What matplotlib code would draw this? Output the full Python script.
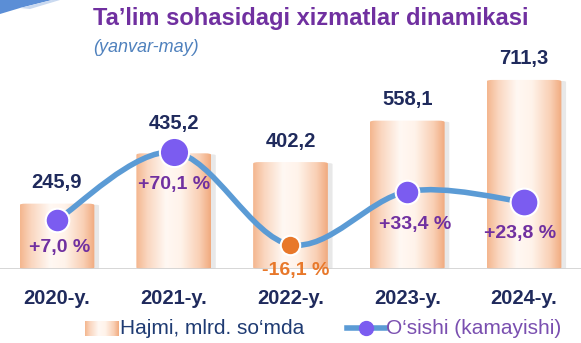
import numpy as np
import matplotlib
matplotlib.use("Agg")
import matplotlib.pyplot as plt
from matplotlib.patches import FancyBboxPatch, Polygon, PathPatch
from matplotlib.path import Path
from matplotlib.lines import Line2D
from matplotlib.colors import LinearSegmentedColormap

plt.rcParams['font.family'] = ['Liberation Sans', 'DejaVu Sans']

# ---- data ----
years = ["2020-y.", "2021-y.", "2022-y.", "2023-y.", "2024-y."]
volume = [245.9, 435.2, 402.2, 558.1, 711.3]          # mlrd. so'm
growth = [7.0, 70.1, -16.1, 33.4, 23.8]               # %
volume_labels = ["245,9", "435,2", "402,2", "558,1", "711,3"]
growth_labels = ["+7,0 %", "+70,1 %", "-16,1 %", "+33,4 %", "+23,8 %"]

NAVY = "#1F2A5C"
PURPLE = "#7030A0"
LINE_BLUE = "#5B9BD5"
DOT = "#7B5CF0"
ORANGE = "#E8782A"

W, H = 581, 343
fig = plt.figure(figsize=(W / 100, H / 100), dpi=100)
fig.patch.set_facecolor("white")


def fx(px):
    return px / W


def fy(py):
    return 1 - py / H


ax = fig.add_axes([0, 74 / H, 1, 269 / H])
ax.set_xlim(-0.488, 4.488)
ax.set_ylim(0, 1012)
ax.axis("off")

# cylinder-like gradient for the bars
cmap = LinearSegmentedColormap.from_list(
    "cyl", [(0, "#F4B68E"), (0.15, "#FAD6BF"), (0.4, "#FFF8F3"),
            (0.6, "#FFF3EA"), (0.85, "#F9CFB4"), (1, "#F1AA7E")])
grad = np.linspace(0, 1, 256).reshape(1, -1)
bw = 0.64
x = np.arange(len(years))
for xi, v in zip(x, volume):
    # soft shadow on the right
    sh = FancyBboxPatch((xi - bw / 2 + 0.04, 0), bw, v - 4,
                        boxstyle="round,pad=0,rounding_size=0.03",
                        mutation_aspect=120, fc="#D9D9D9", ec="none",
                        alpha=0.6, zorder=1)
    ax.add_patch(sh)
    box = FancyBboxPatch((xi - bw / 2, 0), bw, v,
                         boxstyle="round,pad=0,rounding_size=0.05",
                         mutation_aspect=120, fc="none", ec="none", zorder=2)
    ax.add_patch(box)
    im = ax.imshow(grad, cmap=cmap, aspect="auto", zorder=2,
                   extent=(xi - bw / 2, xi + bw / 2, 0, v))
    im.set_clip_path(box)

# baseline
ax.axhline(0, color="#D0D0D0", lw=1.2, zorder=3)

# value labels above the bars
for xi, v, lab in zip(x, volume, volume_labels):
    off = 30 if xi == 1 else 21
    ax.annotate(lab, (xi, v), xytext=(0, off), textcoords="offset pixels",
                ha="center", va="center", fontsize=14.5, fontweight="bold",
                color=NAVY, zorder=6)

# category labels
for xi, lab in zip(x, years):
    ax.annotate(lab, (xi, 0), xytext=(0, -29), textcoords="offset pixels",
                ha="center", va="center", fontsize=14.5, fontweight="bold",
                color=NAVY)

# growth line on a second axis
ax2 = fig.add_axes([0, 74 / H, 1, 269 / H], sharex=ax)
ax2.set_ylim(-38.8, 212)
ax2.axis("off")
ax2.patch.set_alpha(0)

# smooth curve through the points (Catmull-Rom as cubic Bezier segments)
pts = np.column_stack([x, growth]).astype(float)
verts = [tuple(pts[0])]
codes = [Path.MOVETO]
ext = np.vstack([pts[0], pts, pts[-1]])
for i in range(len(pts) - 1):
    p0, p1, p2, p3 = ext[i], ext[i + 1], ext[i + 2], ext[i + 3]
    c1 = p1 + (p2 - p0) / 6
    c2 = p2 - (p3 - p1) / 6
    verts += [tuple(c1), tuple(c2), tuple(p2)]
    codes += [Path.CURVE4] * 3
ax2.add_patch(PathPatch(Path(verts, codes), fc="none", ec=LINE_BLUE,
                        lw=4, capstyle="round", zorder=4))

sizes = [17, 21, 14, 17, 20]
for xi, g, s in zip(x, growth, sizes):
    col = ORANGE if g < 0 else DOT
    ax2.plot(xi, g, "o", ms=s, mfc=col, mec="white", mew=1.5, zorder=5)

lab_off = [(3, -28), (0, -32), (5, -26), (8, -33), (-4, -32)]
for xi, g, lab, (dx, dy) in zip(x, growth, growth_labels, lab_off):
    col = ORANGE if g < 0 else PURPLE
    ax2.annotate(lab, (xi, g), xytext=(dx, dy), textcoords="offset pixels",
                 ha="center", va="center", fontsize=14, fontweight="bold",
                 color=col, zorder=6)

# title block
fig.text(fx(93), fy(18), "Ta\u2019lim sohasidagi xizmatlar dinamikasi",
         ha="left", va="center", fontsize=17, fontweight="bold", color=PURPLE)
fig.text(fx(93), fy(47), "(yanvar-may)", ha="left", va="center",
         fontsize=13, style="italic", color="#4F81BD")

# blue swoosh in the corner
fig.add_artist(Polygon([(0, 1), (fx(52), 1), (fx(20), fy(8)), (0, fy(14))],
                       closed=True, transform=fig.transFigure,
                       fc="#5B8ED6", ec="none"))
fig.add_artist(Polygon([(fx(20), fy(8)), (fx(52), 1), (fx(60), 1),
                        (fx(30), fy(9))], closed=True,
                       transform=fig.transFigure, fc="#C9D9F0", ec="none"))

# legend (drawn by hand to match the spacing)
leg_y = fy(328)
lax = fig.add_axes([0, 0, 1, 1], zorder=-1)
lax.set_xlim(0, W)
lax.set_ylim(H, 0)
lax.axis("off")
lax.patch.set_alpha(0)
lg = lax.imshow(grad, cmap=cmap, aspect="auto",
                extent=(85, 119, 336, 321), zorder=2)
lax.add_line(Line2D([347, 385], [328, 328], color=LINE_BLUE, lw=4, zorder=2))
lax.plot(366, 328, "o", ms=10, mfc=DOT, mec=DOT, zorder=3)
lax.set_xlim(0, W)
lax.set_ylim(H, 0)
fig.text(fx(120), leg_y, "Hajmi, mlrd. so\u2018mda", ha="left", va="center",
         fontsize=15, color="#1F3B73")
fig.text(fx(386), leg_y, "O\u2018sishi (kamayishi)", ha="left", va="center",
         fontsize=15, color="#7A4FB0")

fig.savefig("out.png", dpi=100)
